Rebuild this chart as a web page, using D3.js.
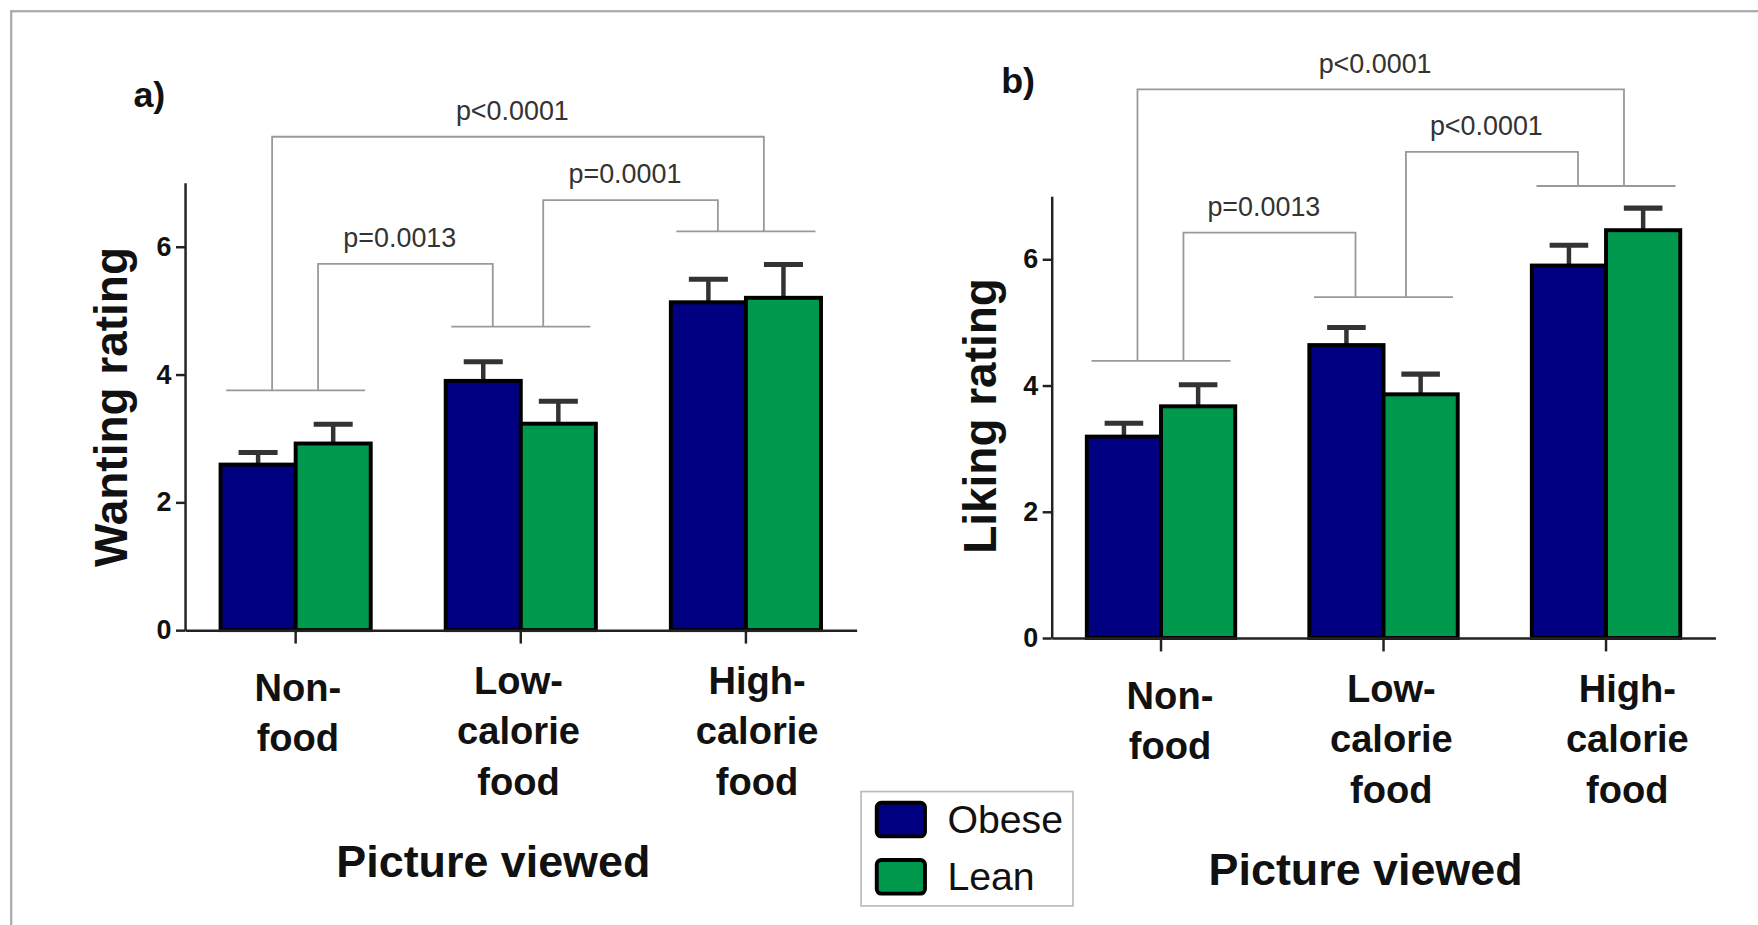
<!DOCTYPE html>
<html>
<head>
<meta charset="utf-8">
<script src="https://cdn.jsdelivr.net/npm/d3@7"></script>
<style>
  body { margin: 0; background: #fff; }
  svg { display: block; font-family: "Liberation Sans", Arial, sans-serif; }
</style>
</head>
<body>
<div id="chart"></div>
<script>
// data
var categories = ["Non-food", "Low-calorie food", "High-calorie food"];
var categoryLines = [["Non-", "food"], ["Low-", "calorie", "food"], ["High-", "calorie", "food"]];
var groups = ["Obese", "Lean"];

var wantingObese = [2.59, 3.90, 5.13];
var wantingObeseSem = [0.19, 0.30, 0.36];
var wantingLean = [2.92, 3.23, 5.20];
var wantingLeanSem = [0.30, 0.35, 0.52];

var likingObese = [3.19, 4.64, 5.90];
var likingObeseSem = [0.21, 0.28, 0.32];
var likingLean = [3.67, 3.86, 6.46];
var likingLeanSem = [0.34, 0.32, 0.35];

var yTicks = [0, 2, 4, 6];

// significance brackets (levels in rating units)
var wantingGroupLines = [3.75, 4.75, 6.24];
var wantingBrackets = [
  {from: 0, to: 1, level: 5.73, label: "p=0.0013"},
  {from: 1, to: 2, level: 6.73, label: "p=0.0001"},
  {from: 0, to: 2, level: 7.72, label: "p<0.0001"}
];
var likingGroupLines = [4.39, 5.40, 7.16];
var likingBrackets = [
  {from: 0, to: 1, level: 6.42, label: "p=0.0013"},
  {from: 1, to: 2, level: 7.70, label: "p<0.0001"},
  {from: 0, to: 2, level: 8.69, label: "p<0.0001"}
];

var colors = {Obese: "#000080", Lean: "#00984c"};

// drawn in the 1568x825 frame, scaled up to the window
var svg = d3.select("#chart")
  .append("svg")
  .attr("width", 1758)
  .attr("height", 925)
  .attr("viewBox", "0 0 1568 825");

svg.append("rect")
  .attr("x", 10).attr("y", 10)
  .attr("width", 1600).attr("height", 900)
  .attr("fill", "none")
  .attr("stroke", "#aaa")
  .attr("stroke-width", 2);

function panel(opt) {
  var g = svg.append("g");

  var x0 = d3.scaleBand()
    .domain(categories)
    .range([opt.left, opt.right])
    .paddingInner(0.333)
    .paddingOuter(0.158);

  var x1 = d3.scaleBand()
    .domain(groups)
    .range([0, x0.bandwidth()]);

  var y = d3.scaleLinear()
    .domain([0, 7])
    .range([opt.bottom, opt.bottom - 7 * opt.unit]);

  var rows = categories.map(function(c, i) {
    return {
      name: c,
      bars: [
        {group: "Obese", value: opt.obese[i], sem: opt.obeseSem[i]},
        {group: "Lean", value: opt.lean[i], sem: opt.leanSem[i]}
      ]
    };
  });

  // gray significance lines
  var mid = function(i) { return x0(categories[i]) + x0.bandwidth() / 2; };
  g.selectAll(".gline")
    .data(opt.groupLines)
    .enter().append("line")
    .attr("x1", function(d, i) { return mid(i) - 62; })
    .attr("x2", function(d, i) { return mid(i) + 62; })
    .attr("y1", function(d) { return y(d); })
    .attr("y2", function(d) { return y(d); })
    .attr("stroke", "#999")
    .attr("stroke-width", 1.6);

  opt.brackets.forEach(function(b) {
    var outer = (b.to - b.from) > 1;
    var xl = mid(b.from) + (outer ? -21 : 20);
    var xr = mid(b.to) + (outer ? 16 : -25);
    var path = d3.path();
    path.moveTo(xl, y(opt.groupLines[b.from]));
    path.lineTo(xl, y(b.level));
    path.lineTo(xr, y(b.level));
    path.lineTo(xr, y(opt.groupLines[b.to]));
    g.append("path")
      .attr("d", path.toString())
      .attr("fill", "none")
      .attr("stroke", "#999")
      .attr("stroke-width", 1.6);
    g.append("text")
      .attr("x", (xl + xr) / 2 - 5)
      .attr("y", y(b.level) - 15)
      .attr("text-anchor", "middle")
      .attr("font-size", 24)
      .attr("fill", "#333")
      .text(b.label);
  });

  // bars
  var cat = g.selectAll(".cat")
    .data(rows)
    .enter().append("g")
    .attr("class", "cat")
    .attr("transform", function(d) { return "translate(" + x0(d.name) + ",0)"; });

  cat.selectAll(".err")
    .data(function(d) { return d.bars; })
    .enter().append("g")
    .attr("class", "err")
    .each(function(d) {
      var cx = x1(d.group) + x1.bandwidth() / 2;
      var e = d3.select(this);
      e.append("line")
        .attr("x1", cx).attr("x2", cx)
        .attr("y1", y(d.value)).attr("y2", y(d.value + d.sem))
        .attr("stroke", "#333").attr("stroke-width", 4);
      e.append("line")
        .attr("x1", cx - x1.bandwidth() * 0.26).attr("x2", cx + x1.bandwidth() * 0.26)
        .attr("y1", y(d.value + d.sem)).attr("y2", y(d.value + d.sem))
        .attr("stroke", "#333").attr("stroke-width", 4.5);
    });

  cat.selectAll("rect")
    .data(function(d) { return d.bars; })
    .enter().append("rect")
    .attr("x", function(d) { return x1(d.group); })
    .attr("y", function(d) { return y(d.value); })
    .attr("width", x1.bandwidth())
    .attr("height", function(d) { return y(0) - y(d.value); })
    .attr("fill", function(d) { return colors[d.group]; })
    .attr("stroke", "#000")
    .attr("stroke-width", 3.5);

  // axes
  var yAxis = g.append("g")
    .attr("transform", "translate(" + opt.left + ",0)")
    .call(d3.axisLeft(y).tickValues(yTicks).tickSize(8).tickSizeOuter(0).tickFormat(d3.format("d")));
  yAxis.selectAll("text")
    .attr("font-size", 24)
    .attr("font-weight", "bold")
    .attr("fill", "#111")
    .attr("dx", "-1");

  g.append("g")
    .attr("transform", "translate(0," + opt.bottom + ")")
    .call(d3.axisBottom(x0).tickSize(12).tickSizeOuter(0).tickFormat(""));

  g.selectAll(".domain, .tick line")
    .attr("stroke", "#222")
    .attr("stroke-width", 2.2);

  // category labels
  g.selectAll(".catlabel")
    .data(categories)
    .enter().append("text")
    .attr("class", "catlabel")
    .attr("text-anchor", "middle")
    .attr("font-size", 34)
    .attr("font-weight", "bold")
    .attr("fill", "#111")
    .each(function(d, i) {
      var t = d3.select(this);
      categoryLines[i].forEach(function(line, k) {
        t.append("tspan")
          .attr("x", mid(i) + opt.labelShift[i])
          .attr("y", opt.bottom + (categoryLines[i].length === 2 ? 63 : 57) + k * 45)
          .text(line);
      });
    });

  g.append("text")
    .attr("x", opt.titleX)
    .attr("y", opt.titleY)
    .attr("text-anchor", "middle")
    .attr("font-size", 40)
    .attr("font-weight", "bold")
    .attr("fill", "#111")
    .text("Picture viewed");

  g.append("text")
    .attr("transform", "translate(" + opt.yTitleX + "," + opt.yTitleY + ")rotate(-90)")
    .attr("text-anchor", "middle")
    .attr("font-size", 41)
    .attr("font-weight", "bold")
    .attr("fill", "#111")
    .text(opt.yTitle);

  g.append("text")
    .attr("x", opt.tagX)
    .attr("y", opt.tagY)
    .attr("font-size", 32)
    .attr("font-weight", "bold")
    .attr("fill", "#111")
    .text(opt.tag);
}

panel({
  left: 165, right: 764, bottom: 562, unit: 57,
  obese: wantingObese, obeseSem: wantingObeseSem,
  lean: wantingLean, leanSem: wantingLeanSem,
  groupLines: wantingGroupLines, brackets: wantingBrackets,
  labelShift: [2, -2, 10],
  yTitle: "Wanting rating", yTitleX: 113, yTitleY: 363,
  titleX: 440, titleY: 782,
  tag: "a)", tagX: 119, tagY: 95
});

panel({
  left: 938, right: 1530, bottom: 569, unit: 56.3,
  obese: likingObese, obeseSem: likingObeseSem,
  lean: likingLean, leanSem: likingLeanSem,
  groupLines: likingGroupLines, brackets: likingBrackets,
  labelShift: [8, 7, 19],
  yTitle: "Liking rating", yTitleX: 888, yTitleY: 371,
  titleX: 1218, titleY: 789,
  tag: "b)", tagX: 893, tagY: 83
});

// legend
var legend = svg.append("g").attr("transform", "translate(768,706)");
legend.append("rect")
  .attr("width", 189).attr("height", 102)
  .attr("fill", "#fff")
  .attr("stroke", "#bbb")
  .attr("stroke-width", 1.5);
var item = legend.selectAll(".item")
  .data(groups)
  .enter().append("g")
  .attr("transform", function(d, i) { return "translate(14," + (10 + i * 51) + ")"; });
item.append("rect")
  .attr("width", 43).attr("height", 30)
  .attr("rx", 4)
  .attr("fill", function(d) { return colors[d]; })
  .attr("stroke", "#000")
  .attr("stroke-width", 3.5);
item.append("text")
  .attr("x", 63).attr("y", 27)
  .attr("font-size", 35)
  .attr("fill", "#111")
  .text(function(d) { return d; });
</script>
</body>
</html>
